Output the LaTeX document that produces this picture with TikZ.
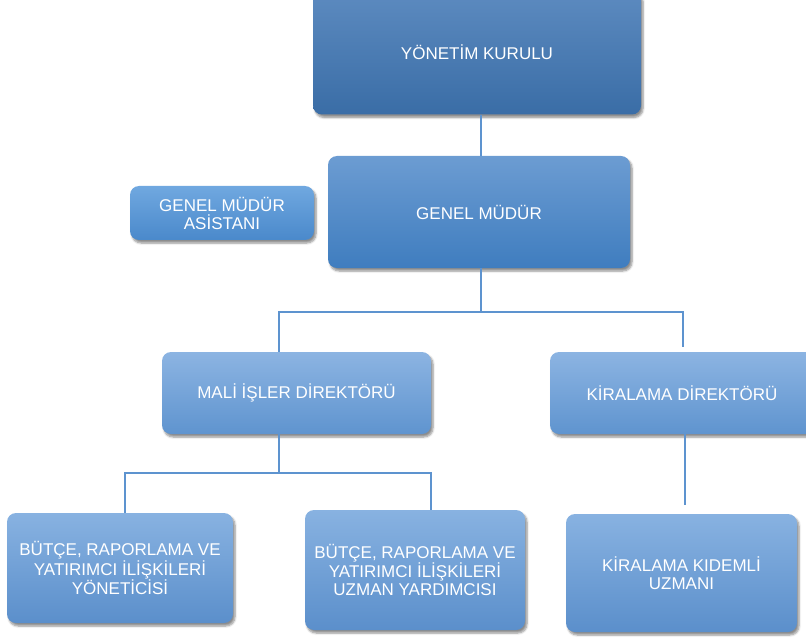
\documentclass[tikz,border=0pt]{standalone}
\usepackage{fontspec}
\setmainfont{Liberation Sans}
\usetikzlibrary{shadows,shadows.blur,calc}
\definecolor{lineblue}{HTML}{5D93CF}
\definecolor{yktop}{HTML}{5D8BC0}
\definecolor{ykbot}{HTML}{3A6DA6}
\definecolor{gmtop}{HTML}{6C9CD2}
\definecolor{gmbot}{HTML}{3F7DBF}
\definecolor{astop}{HTML}{70A8E0}
\definecolor{asbot}{HTML}{4A89CB}
\definecolor{midtop}{HTML}{8CB4E2}
\definecolor{midbot}{HTML}{5F94CF}
\definecolor{lowtop}{HTML}{88B2E1}
\definecolor{lowbot}{HTML}{5B8FCB}
\tikzset{
  box/.style={rounded corners=9pt, inner sep=0pt, align=center, text=white,
    font=\fontsize{17}{17.5}\selectfont,
    blur shadow={shadow xshift=2pt, shadow yshift=-3pt, shadow blur steps=6, shadow opacity=45}},
  conn/.style={draw=lineblue, line width=1.2pt}
}
\begin{document}
\begin{tikzpicture}[x=1pt,y=-1pt]
\useasboundingbox (0,0) rectangle (806,639);
% boxes
\node[box, top color=yktop, bottom color=ykbot, minimum width=328pt, minimum height=125pt] (yk) at (477,52) {YÖNETİM KURULU};
\node[box, top color=gmtop, bottom color=gmbot, minimum width=302pt, minimum height=112pt] (gm) at (479,212) {GENEL MÜDÜR};
\node[box, top color=astop, bottom color=asbot, minimum width=184pt, minimum height=54pt, font=\fontsize{17}{18}\selectfont] (as) at (222,213) {GENEL MÜDÜR\\ASİSTANI};
\node[box, top color=midtop, bottom color=midbot, minimum width=269pt, minimum height=82pt] (mali) at (296.5,393) {MALİ İŞLER DİREKTÖRÜ};
\node[box, top color=midtop, bottom color=midbot, minimum width=264pt, minimum height=82pt] (kira) at (682,393) {KİRALAMA DİREKTÖRÜ};
\node[box, top color=lowtop, bottom color=lowbot, minimum width=226pt, minimum height=110pt] (b1) at (120,568) {BÜTÇE, RAPORLAMA VE\\YATIRIMCI İLİŞKİLERİ\\YÖNETİCİSİ};
\node[box, top color=lowtop, bottom color=lowbot, minimum width=220pt, minimum height=120pt] (b2) at (415,570) {BÜTÇE, RAPORLAMA VE\\YATIRIMCI İLİŞKİLERİ\\UZMAN YARDIMCISI};
\node[box, top color=lowtop, bottom color=lowbot, minimum width=231pt, minimum height=118pt] (b3) at (681.5,573) {KİRALAMA KIDEMLİ\\UZMANI};
% junctions
\coordinate (c1) at (481,0);
\coordinate (j1) at (481,312);
\coordinate (jl) at (279,312);
\coordinate (jr) at (683,312);
\coordinate (jre) at (683,347);
\coordinate (j2) at (279,473);
\coordinate (j2l) at (125,473);
\coordinate (j2r) at (431,473);
\coordinate (k1) at (685,0);
\coordinate (kend) at (685,505);
% connectors
\draw[conn] (yk.south -| c1) -- (gm.north -| c1);
\draw[conn] (gm.south -| j1) -- (j1);
\draw[conn] (mali.north -| jl) -- (jl) -- (jr) -- (jre);
\draw[conn] (mali.south -| j2) -- (j2);
\draw[conn] (b1.north -| j2l) -- (j2l) -- (j2r) -- (b2.north -| j2r);
\draw[conn] (kira.south -| k1) -- (kend);
\end{tikzpicture}
\end{document}
